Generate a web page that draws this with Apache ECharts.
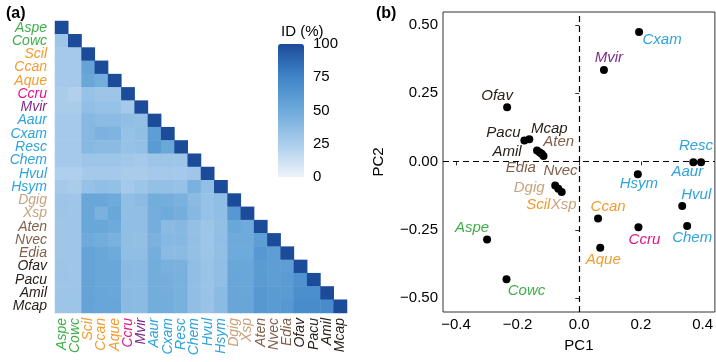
<!DOCTYPE html>
<html>
<head>
<meta charset="utf-8">
<script src="https://cdn.jsdelivr.net/npm/echarts@6/dist/echarts.min.js"></script>
<style>html,body{margin:0;padding:0;background:#fff}#c{width:716px;height:362px}</style>
</head>
<body>
<div id="c"></div>
<script>
// ---------- data ----------
const taxa = ['Aspe','Cowc','Scil','Ccan','Aque','Ccru','Mvir','Aaur','Cxam','Resc','Chem','Hvul','Hsym','Dgig','Xsp','Aten','Nvec','Edia','Ofav','Pacu','Amil','Mcap'];

// lower triangle of pairwise identity (%), row i holds columns 0..i-1 (diagonal = 100)
const idLower = [
  [],
  [31],
  [28,28],
  [28,28,55],
  [28,28,52,48],
  [26,23,33,31,31],
  [26,26,36,33,33,28],
  [28,28,40,38,38,36,34],
  [28,28,40,44,43,33,36,58],
  [28,28,40,38,38,33,34,60,52],
  [28,28,31,31,31,29,28,31,31,31],
  [24,24,28,28,28,26,26,28,28,28,30],
  [28,26,33,36,34,28,31,34,34,33,45,36],
  [31,30,52,52,50,36,38,48,47,45,38,33,36],
  [31,30,52,45,52,36,36,47,50,47,40,33,36,62],
  [30,30,52,52,50,36,36,47,38,40,34,31,35,52,50],
  [30,30,50,48,45,36,35,45,40,40,34,30,36,50,50,58],
  [30,30,55,52,50,36,36,47,38,38,34,31,35,50,50,62,58],
  [31,30,55,52,52,38,38,48,46,45,36,32,36,52,52,60,58,58],
  [31,30,55,52,52,38,38,48,47,46,36,32,36,53,52,60,58,60,66],
  [31,31,55,53,52,38,38,48,47,46,36,32,38,53,52,62,60,60,68,68],
  [31,31,55,53,53,38,38,48,48,46,36,32,38,53,53,62,60,62,70,70,70]
];
const diagonalId = 100;
const idTicks = [0, 25, 50, 75, 100];

// PCA coordinates, in taxa order
const pc1 = [-0.299,-0.236,-0.068,0.061,0.068,0.192,0.080,0.370,0.194,0.395,0.350,0.334,0.190,-0.078,-0.057,-0.122,-0.116,-0.128,-0.234,-0.178,-0.137,-0.162];
const pc2 = [-0.286,-0.431,-0.100,-0.209,-0.316,-0.241,0.335,-0.003,0.474,-0.003,-0.236,-0.163,-0.047,-0.088,-0.112,0.028,0.020,0.033,0.198,0.077,0.040,0.081];
const pc1Ticks = [-0.4,-0.2,0,0.2,0.4];
const pc2Ticks = [-0.5,-0.25,0,0.25,0.5];

// ---------- styles ----------
const groupColor = {
  Aspe:'#3fae4a', Cowc:'#3fae4a',
  Scil:'#f29b30', Ccan:'#f29b30', Aque:'#f29b30',
  Ccru:'#e0168a', Mvir:'#7d2a8c',
  Aaur:'#2ea3dc', Cxam:'#2ea3dc', Resc:'#2ea3dc', Chem:'#2ea3dc', Hvul:'#2ea3dc', Hsym:'#2ea3dc',
  Dgig:'#c8a27c', Xsp:'#c8a27c',
  Aten:'#80604a', Nvec:'#80604a', Edia:'#80604a',
  Ofav:'#2b211b', Pacu:'#2b211b', Amil:'#2b211b', Mcap:'#2b211b'
};
// label placement (pixel offsets from point) for the PCA panel
const labelOffset = {
  Aspe:[-15,-12], Cowc:[20,12], Scil:[-20,16], Ccan:[10,-12], Aque:[3,12],
  Ccru:[6,13], Mvir:[5,-12], Aaur:[-6,10], Cxam:[23,8], Resc:[-5,-16],
  Chem:[5,12], Hvul:[14,-11], Hsym:[1,10], Dgig:[-26,2], Xsp:[2,13],
  Aten:[17,-12], Nvec:[17,15], Edia:[-19,15], Ofav:[-10,-12], Pacu:[-21,-8],
  Amil:[-30,1], Mcap:[20,-10]
};
const FONT = 'Liberation Sans, Arial, sans-serif';

// ---------- build ----------
const heatData = [];
idLower.forEach((row, i) => {
  row.forEach((v, j) => heatData.push([j, i, v]));
  heatData.push([i, i, diagonalId]);
});
const pcaData = taxa.map((t, k) => ({
  value: [pc1[k], pc2[k]],
  name: t,
  label: { color: groupColor[t] }
}));

const chart = echarts.init(document.getElementById('c'), null, { renderer: 'canvas' });
chart.setOption({
  animation: false,
  textStyle: { fontFamily: FONT },
  title: [
    { text: '(a)', left: 1, top: 1, textStyle: { fontSize: 16, fontWeight: 'bold', color: '#000', fontFamily: FONT } },
    { text: '(b)', left: 371, top: 1, textStyle: { fontSize: 16, fontWeight: 'bold', color: '#000', fontFamily: FONT } },
    { text: 'ID (%)', left: 276, top: 19, textStyle: { fontSize: 15, fontWeight: 'normal', color: '#000', fontFamily: FONT } }
  ],
  grid: [
    { left: 55, top: 21, width: 292, height: 292 },
    { left: 443, top: 12, width: 272, height: 300, show: true, borderColor: '#333', borderWidth: 1, backgroundColor: '#fff' },
    { left: 278, top: 44, width: 26, height: 133 }
  ],
  xAxis: [
    { gridIndex: 0, type: 'category', data: taxa, axisLine: { show: false }, axisTick: { show: false }, splitLine: { show: false },
      axisLabel: { interval: 0, rotate: 90, margin: 5, fontSize: 14, fontStyle: 'italic', fontFamily: FONT,
        color: (v) => groupColor[v] } },
    { gridIndex: 1, type: 'value', min: -0.442, max: 0.44, splitLine: { show: false },
      axisLine: { show: false },
      axisTick: { show: true, length: 4, lineStyle: { color: '#333' }, customValues: pc1Ticks },
      axisLabel: { customValues: pc1Ticks, fontSize: 15, color: '#000', margin: 5, fontFamily: FONT,
        formatter: (v) => (v < 0 ? '\u2212' : '') + Math.abs(v).toFixed(1) },
      name: 'PC1', nameLocation: 'middle', nameGap: 26, nameTextStyle: { fontSize: 15, color: '#000', fontFamily: FONT } },
    { gridIndex: 2, type: 'value', show: false, min: 0, max: 1 }
  ],
  yAxis: [
    { gridIndex: 0, type: 'category', data: taxa, inverse: true, axisLine: { show: false }, axisTick: { show: false }, splitLine: { show: false },
      axisLabel: { interval: 0, margin: 8, fontSize: 14, fontStyle: 'italic', fontFamily: FONT,
        color: (v) => groupColor[v] } },
    { gridIndex: 1, type: 'value', min: -0.551, max: 0.547, splitLine: { show: false },
      axisLine: { show: false },
      axisTick: { show: true, length: 4, lineStyle: { color: '#333' }, customValues: pc2Ticks },
      axisLabel: { customValues: pc2Ticks, fontSize: 15, color: '#000', margin: 5, fontFamily: FONT,
        formatter: (v) => (v < 0 ? '\u2212' : '') + Math.abs(v).toFixed(2) },
      name: 'PC2', nameLocation: 'middle', nameGap: 57, nameRotate: 90, nameTextStyle: { fontSize: 15, color: '#000', fontFamily: FONT } },
    { gridIndex: 2, type: 'value', position: 'right', min: 0, max: 100,
      axisLine: { show: false }, splitLine: { show: false },
      axisTick: { show: true, inside: true, length: 5, lineStyle: { color: 'rgba(255,255,255,0.7)' }, customValues: idTicks },
      axisLabel: { customValues: idTicks, fontSize: 15, color: '#000', margin: 9, fontFamily: FONT } },
    { gridIndex: 2, type: 'value', position: 'left', min: 0, max: 100,
      axisLine: { show: false }, splitLine: { show: false },
      axisTick: { show: true, inside: true, length: 5, lineStyle: { color: 'rgba(255,255,255,0.7)' }, customValues: idTicks },
      axisLabel: { show: false } }
  ],
  visualMap: {
    type: 'continuous', min: 0, max: 100, seriesIndex: 0, calculable: false,
    left: 278, top: 44, itemWidth: 26, itemHeight: 133, padding: 0, text: null,
    inRange: { color: ['#eef3fa', '#abcdec', '#6eaadb', '#3f85c8', '#1c4b9a'] }
  },
  series: [
    { type: 'heatmap', xAxisIndex: 0, yAxisIndex: 0, data: heatData, itemStyle: { borderWidth: 0 }, emphasis: { disabled: true } },
    { type: 'scatter', xAxisIndex: 1, yAxisIndex: 1, data: pcaData, symbolSize: 8, z: 5,
      itemStyle: { color: '#000', opacity: 1 },
      label: { show: true, position: 'inside', formatter: (p) => p.name, fontSize: 15, fontStyle: 'italic', fontFamily: FONT },
      labelLayout: (params) => {
        const o = labelOffset[taxa[params.dataIndex]];
        return { dx: o[0], dy: o[1], hideOverlap: false };
      },
      markLine: { silent: true, symbol: 'none', label: { show: false },
        lineStyle: { color: '#000', type: [6, 4], width: 1.2, opacity: 1 },
        data: [{ xAxis: 0 }, { yAxis: 0 }] } }
  ]
});
</script>
</body>
</html>
